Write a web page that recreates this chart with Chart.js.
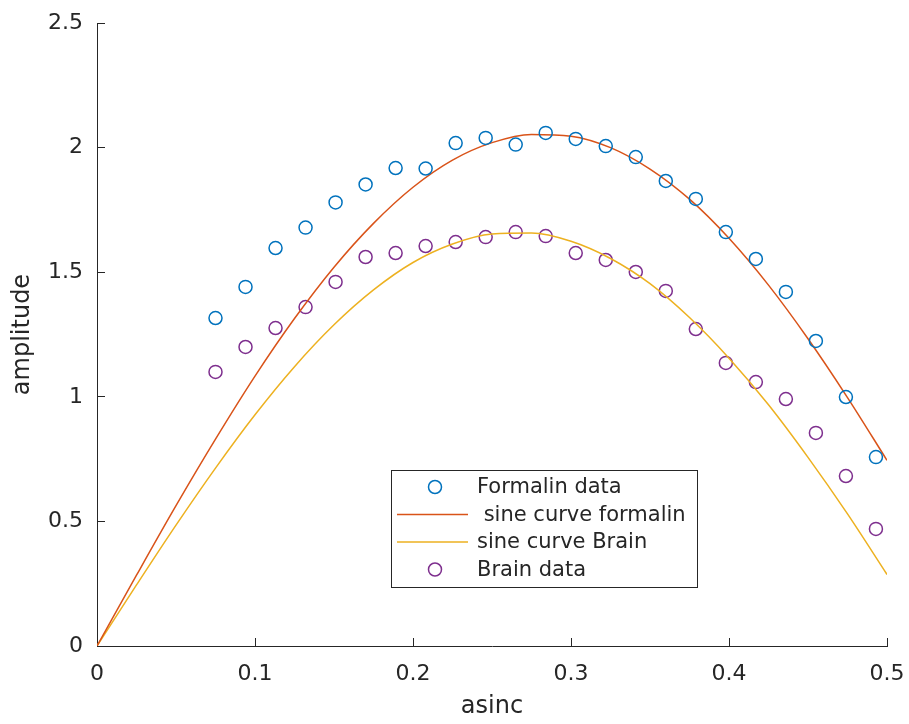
<!DOCTYPE html>
<html>
<head>
<meta charset="utf-8">
<script src="https://cdn.jsdelivr.net/npm/chart.js@4.4.1/dist/chart.umd.min.js"></script>
<style>
  html, body { margin: 0; padding: 0; background: #fff; }
  #chart { display: block; }
</style>
</head>
<body>
<canvas id="chart" width="909" height="724"></canvas>
<script>
// measured points (asinc)
var pointX = [0.075, 0.094, 0.113, 0.132, 0.151, 0.170, 0.189, 0.208, 0.227, 0.246, 0.265, 0.284,
              0.303, 0.322, 0.341, 0.360, 0.379, 0.398, 0.417, 0.436, 0.455, 0.474, 0.493];
var formalinData = [1.316, 1.441, 1.597, 1.679, 1.780, 1.852, 1.918, 1.916, 2.018, 2.039, 2.012, 2.059,
                    2.035, 2.006, 1.962, 1.866, 1.794, 1.661, 1.553, 1.421, 1.224, 0.999, 0.758];
var brainData = [1.100, 1.200, 1.276, 1.360, 1.461, 1.561, 1.577, 1.605, 1.621, 1.641, 1.661, 1.645,
                 1.577, 1.549, 1.501, 1.425, 1.272, 1.136, 1.059, 0.991, 0.855, 0.682, 0.470];

// fitted curves
var curveX = [0, 0.025, 0.05, 0.075, 0.1, 0.125, 0.15, 0.175, 0.2, 0.225, 0.25,
              0.275, 0.3, 0.325, 0.35, 0.375, 0.4, 0.425, 0.45, 0.475, 0.5];
var formalinCurve = [0, 0.284, 0.563, 0.830, 1.083, 1.314, 1.520, 1.696, 1.841, 1.950, 2.020,
                     2.053, 2.046, 2.000, 1.914, 1.793, 1.636, 1.448, 1.233, 0.997, 0.745];
var brainCurve = [0, 0.245, 0.485, 0.714, 0.928, 1.121, 1.289, 1.429, 1.539, 1.613, 1.653,
                  1.657, 1.624, 1.555, 1.454, 1.318, 1.155, 0.968, 0.757, 0.530, 0.287];

var labels = ['Formalin data', ' sine curve formalin', 'sine curve Brain', 'Brain data'];
var colors = ['#0072BD', '#D95319', '#EDB120', '#7E2F8E'];
var axisColor = '#262626';

function pairs(xs, ys) {
    return xs.map(function(x, i) { return { x: x, y: ys[i] }; });
}

// matlab style labels: 1 not 1.0
function plainTick(v) {
    return String(Math.round(v * 10) / 10);
}

// legend drawn inside the axes like the matlab one
var boxLegend = {
    id: 'boxLegend',
    afterDraw: function(chart) {
        var ctx = chart.ctx;
        var left = 391, top = 470, w = 306, h = 117;
        ctx.save();
        ctx.fillStyle = '#fff';
        ctx.fillRect(left, top, w, h);
        ctx.strokeStyle = axisColor;
        ctx.lineWidth = 1;
        ctx.strokeRect(left + 0.5, top + 0.5, w, h);
        ctx.font = '21px "DejaVu Sans"';
        ctx.textBaseline = 'middle';
        chart.data.datasets.forEach(function(ds, i) {
            var y = top + 17 + i * 27.5;
            ctx.strokeStyle = ds.borderColor;
            ctx.lineWidth = 1.5;
            ctx.beginPath();
            if (ds.showLine) {
                ctx.moveTo(left + 6, y);
                ctx.lineTo(left + 77, y);
            } else {
                ctx.arc(left + 44, y, 6.5, 0, Math.PI * 2);
            }
            ctx.stroke();
            ctx.fillStyle = axisColor;
            ctx.fillText(ds.label, left + 86, y + 1);
        });
        ctx.restore();
    }
};

var config = {
    type: 'scatter',
    data: {
        datasets: [{
            label: labels[0],
            data: pairs(pointX, formalinData),
            borderColor: colors[0],
            backgroundColor: 'rgba(0,0,0,0)',
            pointRadius: 6.5,
            pointBorderWidth: 1.5,
            showLine: false
        }, {
            label: labels[1],
            data: pairs(curveX, formalinCurve),
            borderColor: colors[1],
            borderWidth: 1.5,
            pointRadius: 0,
            showLine: true,
            cubicInterpolationMode: 'monotone'
        }, {
            label: labels[2],
            data: pairs(curveX, brainCurve),
            borderColor: colors[2],
            borderWidth: 1.5,
            pointRadius: 0,
            showLine: true,
            cubicInterpolationMode: 'monotone'
        }, {
            label: labels[3],
            data: pairs(pointX, brainData),
            borderColor: colors[3],
            backgroundColor: 'rgba(0,0,0,0)',
            pointRadius: 6.5,
            pointBorderWidth: 1.5,
            showLine: false
        }]
    },
    options: {
        responsive: false,
        animation: false,
        layout: { padding: { left: 0, top: 23, right: 22, bottom: 0 } },
        plugins: {
            legend: { display: false },
            tooltip: { enabled: false }
        },
        scales: {
            x: {
                type: 'linear',
                min: 0,
                max: 0.5,
                afterFit: function(s) { s.height = 78; s.paddingLeft = 0; s.paddingRight = 0; },
                ticks: { stepSize: 0.1, padding: 23, color: axisColor, font: { family: 'DejaVu Sans', size: 22 }, callback: plainTick },
                grid: { drawOnChartArea: false, tickLength: -8, color: axisColor },
                border: { color: axisColor, width: 1 },
                title: { display: true, text: 'asinc', color: axisColor, font: { family: 'DejaVu Sans', size: 24 }, padding: { top: 0, bottom: 3 } }
            },
            y: {
                min: 0,
                max: 2.5,
                afterFit: function(s) { s.width = 97; s.paddingTop = 0; s.paddingBottom = 0; },
                ticks: { stepSize: 0.5, padding: 22, color: axisColor, font: { family: 'DejaVu Sans', size: 22 }, callback: plainTick },
                grid: { drawOnChartArea: false, tickLength: -8, color: axisColor },
                border: { color: axisColor, width: 1 },
                title: { display: true, text: 'amplitude', color: axisColor, font: { family: 'DejaVu Sans', size: 24 }, padding: { top: 8, bottom: 0 } }
            }
        }
    },
    plugins: [boxLegend]
};

window.onload = function() {
    var ctx = document.getElementById('chart').getContext('2d');
    window.myChart = new Chart(ctx, config);
};
</script>
</body>
</html>
